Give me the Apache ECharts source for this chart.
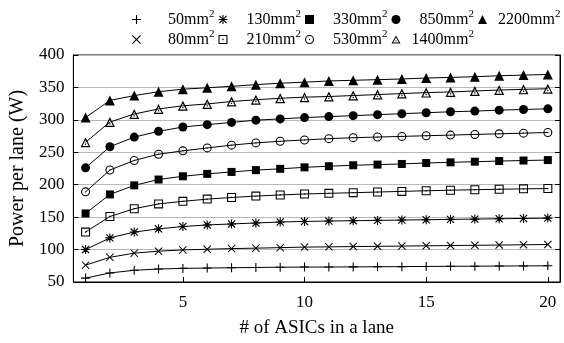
<!DOCTYPE html>
<html>
<head>
<meta charset="utf-8">
<script src="https://cdn.jsdelivr.net/npm/echarts@6/dist/echarts.min.js"></script>
<style>
html,body{margin:0;padding:0;background:#fff;}
#c{width:564px;height:343px;}
</style>
</head>
<body>
<div id="c"></div>
<script>
const xValues = [1,2,3,4,5,6,7,8,9,10,11,12,13,14,15,16,17,18,19,20];
const xTickValues = [5,10,15,20];
const seriesNames = ['50mm²','80mm²','130mm²','210mm²','330mm²','530mm²','850mm²','1400mm²','2200mm²'];
const s50   = [56,64,68,70,71,71.5,72,72.4,72.8,73,73.1,73.3,73.5,73.7,74,74.2,74.4,74.6,74.8,75];
const s80   = [76,88,94.5,97.5,99.5,100.5,101.5,102.2,103,103.8,104.2,104.6,105,105.4,105.8,106.2,106.6,107,107.4,107.8];
const s130  = [100,118,127,132,135.5,138,139.5,141,142.5,143.4,144,144.5,145,145.5,146,146.5,147,147.5,148,148.5];
const s210  = [127,151,163,170.4,174.4,177.8,180.3,182.5,184.2,185.7,186.7,187.7,188.7,189.7,190.7,191.5,192.3,193,193.6,194.1];
const s330  = [155.7,185,199,208,213,216.7,219.7,222.5,224.5,226.8,228.5,230,231,232,233.5,234.5,235.5,236.5,237.3,238];
const s530  = [189,222.7,237.4,247,252.2,256.7,261,264.5,267,269,271,272.5,273.5,274.5,275.5,276.5,277.5,278.5,279.5,280.5];
const s850  = [226,258.6,273.4,282.3,289,292.6,296.1,299.5,301.5,303.5,305,306.5,308,309.5,311,312.5,313.5,315,316,317];
const s1400 = [265.5,296.6,309,316.8,321.7,324.5,328.3,331,333.3,335,336,337.5,339,340.5,342,343,344.5,346,347,348];
const s2200 = [303.5,330,337.4,343.4,347.3,349.5,351.7,354.3,356.5,358.1,360,361,362,363,364.5,365.5,366.5,368,369,370];
const seriesValues = [s50,s80,s130,s210,s330,s530,s850,s1400,s2200];
const legendRow1 = ['50mm²','130mm²','330mm²','850mm²','2200mm²'];
const legendRow2 = ['80mm²','210mm²','530mm²','1400mm²'];

const FONT = 'Liberation Serif';
const P_PLUS = 'path://M4.4,0H5.6V4.4H10V5.6H5.6V10H4.4V5.6H0V4.4H4.4Z';
const P_CROSS = 'path://M0,0.9L0.9,0L5,4.1L9.1,0L10,0.9L5.9,5L10,9.1L9.1,10L5,5.9L0.9,10L0,9.1L4.1,5Z';
const P_STAR = 'path://M4.4,0H5.6V4.4H10V5.6H5.6V10H4.4V5.6H0V4.4H4.4Z M0.6,1.5L1.5,0.6L5,4.1L8.5,0.6L9.4,1.5L5.9,5L9.4,8.5L8.5,9.4L5,5.9L1.5,9.4L0.6,8.5L4.1,5Z';
const P_OSQ = 'path://M0,0H10V10H0Z M1.2,1.2V8.8H8.8V1.2Z M4.3,4.3H5.7V5.7H4.3Z';
const P_OCIR = 'path://M0,5A5,5 0 1,1 10,5A5,5 0 1,1 0,5Z M1.2,5A3.8,3.8 0 1,0 8.8,5A3.8,3.8 0 1,0 1.2,5Z M4.3,5A0.7,0.7 0 1,1 5.7,5A0.7,0.7 0 1,1 4.3,5Z';
const P_OTRI = 'path://M5,0L10,9L0,9Z M5,2.4L1.9,7.9L8.1,7.9Z M4.4,5.6H5.6V6.8H4.4Z';
const symbols = [P_PLUS, P_CROSS, P_STAR, P_OSQ, 'rect', P_OCIR, 'circle', P_OTRI, 'triangle'];
const sizes = [9, 8, 9, 9, 8, 9, 9, 10, 10];

const series = seriesNames.map((n, i) => ({
  name: n,
  type: 'line',
  data: xValues.map((x, j) => [x, seriesValues[i][j]]),
  symbol: symbols[i],
  symbolSize: sizes[i],
  showAllSymbol: true,
  lineStyle: {color: '#000', width: 1},
  itemStyle: {color: '#000'},
  emphasis: {disabled: true},
  silent: true
}));

function legendFor(names, top) {
  return {
    show: true,
    top: top,
    left: 132,
    padding: 0,
    itemWidth: 9,
    itemHeight: 9,
    itemGap: 4,
    selectedMode: false,
    data: names.map(n => ({name: n, icon: symbols[seriesNames.indexOf(n)]})),
    formatter: function (name) { return '{a|' + name.replace('²', '') + '}{s|2}'; },
    textStyle: {
      color: '#000',
      fontFamily: FONT,
      fontSize: 16,
      rich: {
        a: {width: 63, align: 'right', fontFamily: FONT, fontSize: 16, color: '#000'},
        s: {align: 'right', fontFamily: FONT, fontSize: 11, color: '#000', padding: [0, 0, 10, 0]}
      }
    }
  };
}

const chart = echarts.init(document.getElementById('c'), null, {renderer: 'canvas'});
chart.setOption({
  animation: false,
  backgroundColor: '#fff',
  legend: [legendFor(legendRow1, 9), legendFor(legendRow2, 29)],
  grid: {left: 73, right: 4, top: 55, bottom: 52, show: true, borderColor: '#000', borderWidth: 1, containLabel: false},
  xAxis: {
    type: 'value', min: 0.5, max: 20.5,
    name: '# of ASICs in a lane', nameLocation: 'middle', nameGap: 37,
    nameTextStyle: {fontFamily: FONT, fontSize: 19, color: '#000'},
    axisLine: {show: true, lineStyle: {color: '#000', width: 1}},
    axisTick: {show: true, inside: true, length: 5, customValues: xTickValues, lineStyle: {color: '#000'}},
    axisLabel: {show: true, customValues: xTickValues, fontFamily: FONT, fontSize: 17, color: '#000', margin: 12},
    splitLine: {show: false}
  },
  yAxis: [{
    type: 'value', min: 50, max: 400, interval: 50,
    name: 'Power per lane (W)', nameLocation: 'middle', nameGap: 40, nameRotate: 90,
    nameTextStyle: {fontFamily: FONT, fontSize: 20, color: '#000'},
    axisLine: {show: true, lineStyle: {color: '#000', width: 1}},
    axisTick: {show: true, inside: true, length: 5, lineStyle: {color: '#000'}},
    axisLabel: {fontFamily: FONT, fontSize: 17, color: '#000', margin: 9},
    splitLine: {show: true, lineStyle: {color: '#b8b8b8', width: 1}}
  }, {
    type: 'value', min: 50, max: 400, interval: 50, position: 'right',
    axisLine: {show: true, lineStyle: {color: '#000', width: 1}},
    axisTick: {show: true, inside: true, length: 5, lineStyle: {color: '#000'}},
    axisLabel: {show: false},
    splitLine: {show: false}
  }],
  series: series
});
</script>
</body>
</html>
